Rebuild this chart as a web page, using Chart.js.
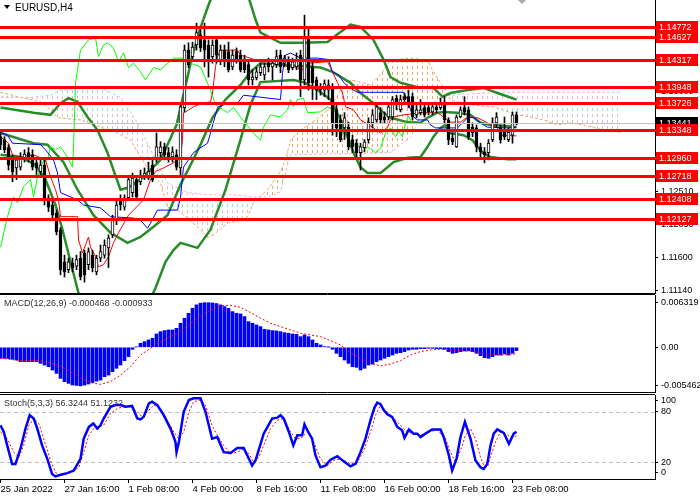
<!DOCTYPE html>
<html>
<head>
<meta charset="utf-8">
<title>EURUSD,H4</title>
<script src="https://cdn.jsdelivr.net/npm/chart.js@4.4.1/dist/chart.umd.min.js"></script>
<style>
html, body { margin: 0; padding: 0; background: #fff; }
#wrap { position: relative; width: 700px; height: 500px; overflow: hidden; background: #fff; }
#wrap canvas { position: absolute; left: 0; top: 0; }
</style>
</head>
<body>
<div id="wrap">
  <canvas id="priceChart" width="700" height="500"></canvas>
  <canvas id="macdChart" width="700" height="500"></canvas>
  <canvas id="stochChart" width="700" height="500"></canvas>
</div>
<script>
// bar index 0 = 25 Jan 2022 00:00, one bar per 4 hours (weekends skipped)
const timeLabels = ['25 Jan 2022', '27 Jan 16:00', '1 Feb 08:00', '4 Feb 00:00', '8 Feb 16:00',
  '11 Feb 08:00', '16 Feb 00:00', '18 Feb 16:00', '23 Feb 08:00'];
const timeLabelIdx = [0, 16, 32, 48, 64, 80, 96, 112, 128];

const candleOpen = [1.1326,1.1322,1.1311,1.1294,1.1283,1.1284,1.1297,1.1304,1.1301,1.1290,
  1.1278,1.1287,1.1242,1.1232,1.1221,1.1198,1.1154,1.1143,1.1152,1.1148,
  1.1159,1.1166,1.1150,1.1163,1.1140,1.1159,1.1163,1.1173,1.1191,1.1212,
  1.1239,1.1229,1.1242,1.1249,1.1267,1.1264,1.1271,1.1269,1.1287,1.1294,
  1.1304,1.1312,1.1304,1.1298,1.1301,1.1283,1.1366,1.1445,1.1436,1.1452,
  1.1466,1.1459,1.1452,1.1436,1.1459,1.1432,1.1445,1.1443,1.1422,1.1443,
  1.1438,1.1432,1.1425,1.1404,1.1407,1.1414,1.1411,1.1427,1.1422,1.1425,
  1.1438,1.1427,1.1432,1.1421,1.1422,1.1438,1.1404,1.1463,1.1422,1.1404,
  1.1394,1.1390,1.1390,1.1394,1.1363,1.1349,1.1338,1.1339,1.1322,1.1317,
  1.1304,1.1311,1.1322,1.1345,1.1349,1.1359,1.1353,1.1353,1.1353,1.1379,
  1.1363,1.1381,1.1381,1.1381,1.1356,1.1359,1.1366,1.1366,1.1360,1.1367,
  1.1366,1.1370,1.1349,1.1324,1.1312,1.1353,1.1366,1.1363,1.1339,1.1338,
  1.1312,1.1305,1.1304,1.1322,1.1345,1.1338,1.1335,1.1322,1.1328,1.1356];
const candleHigh = [1.1333,1.1326,1.1315,1.1301,1.1298,1.1304,1.1308,1.1311,1.1308,1.1294,
  1.1294,1.1294,1.1246,1.1239,1.1225,1.1201,1.1163,1.1159,1.1159,1.1163,
  1.1168,1.1170,1.1173,1.1170,1.1163,1.1177,1.1184,1.1191,1.1218,1.1239,
  1.1246,1.1246,1.1273,1.1276,1.1271,1.1280,1.1283,1.1291,1.1294,1.1331,
  1.1319,1.1317,1.1311,1.1312,1.1308,1.1370,1.1452,1.1455,1.1456,1.1482,
  1.1473,1.1482,1.1459,1.1459,1.1462,1.1452,1.1452,1.1456,1.1445,1.1448,
  1.1445,1.1438,1.1429,1.1418,1.1421,1.1427,1.1427,1.1434,1.1432,1.1445,
  1.1445,1.1438,1.1436,1.1434,1.1441,1.1445,1.1493,1.1476,1.1429,1.1408,
  1.1399,1.1404,1.1404,1.1399,1.1370,1.1356,1.1359,1.1346,1.1328,1.1322,
  1.1317,1.1322,1.1352,1.1363,1.1370,1.1366,1.1360,1.1372,1.1381,1.1383,
  1.1383,1.1386,1.1390,1.1386,1.1370,1.1377,1.1370,1.1370,1.1372,1.1372,
  1.1379,1.1381,1.1352,1.1331,1.1356,1.1367,1.1381,1.1367,1.1345,1.1342,
  1.1317,1.1311,1.1322,1.1352,1.1359,1.1342,1.1353,1.1338,1.1360,1.1360];
const candleLow = [1.1308,1.1304,1.1280,1.1264,1.1267,1.1280,1.1291,1.1291,1.1280,1.1273,
  1.1272,1.1232,1.1223,1.1212,1.1191,1.1136,1.1133,1.1139,1.1140,1.1143,
  1.1129,1.1126,1.1143,1.1140,1.1136,1.1154,1.1159,1.1146,1.1187,1.1205,
  1.1225,1.1225,1.1239,1.1243,1.1239,1.1260,1.1267,1.1267,1.1264,1.1291,
  1.1297,1.1294,1.1291,1.1291,1.1280,1.1273,1.1360,1.1421,1.1429,1.1445,
  1.1443,1.1422,1.1408,1.1427,1.1427,1.1425,1.1422,1.1415,1.1418,1.1427,
  1.1415,1.1414,1.1397,1.1397,1.1404,1.1410,1.1404,1.1415,1.1404,1.1421,
  1.1414,1.1422,1.1414,1.1418,1.1418,1.1381,1.1397,1.1390,1.1377,1.1377,
  1.1383,1.1381,1.1377,1.1328,1.1326,1.1319,1.1322,1.1308,1.1304,1.1298,
  1.1280,1.1305,1.1317,1.1338,1.1346,1.1345,1.1345,1.1349,1.1349,1.1363,
  1.1360,1.1370,1.1366,1.1349,1.1352,1.1356,1.1353,1.1356,1.1356,1.1359,
  1.1363,1.1345,1.1315,1.1315,1.1311,1.1352,1.1356,1.1322,1.1326,1.1305,
  1.1298,1.1290,1.1294,1.1319,1.1339,1.1317,1.1322,1.1319,1.1317,1.1342];
const candleClose = [1.1315,1.1308,1.1287,1.1278,1.1294,1.1298,1.1302,1.1298,1.1284,1.1283,
  1.1287,1.1239,1.1229,1.1218,1.1195,1.1143,1.1140,1.1154,1.1146,1.1157,
  1.1133,1.1136,1.1168,1.1146,1.1159,1.1168,1.1177,1.1187,1.1212,1.1232,
  1.1232,1.1242,1.1267,1.1269,1.1243,1.1273,1.1276,1.1278,1.1267,1.1312,
  1.1312,1.1301,1.1297,1.1305,1.1284,1.1367,1.1445,1.1425,1.1449,1.1469,
  1.1448,1.1445,1.1432,1.1452,1.1438,1.1445,1.1429,1.1418,1.1438,1.1432,
  1.1418,1.1418,1.1404,1.1408,1.1415,1.1422,1.1422,1.1422,1.1427,1.1436,
  1.1422,1.1434,1.1418,1.1429,1.1432,1.1404,1.1463,1.1400,1.1400,1.1390,
  1.1390,1.1399,1.1397,1.1345,1.1338,1.1322,1.1352,1.1312,1.1312,1.1304,
  1.1312,1.1319,1.1346,1.1356,1.1367,1.1349,1.1349,1.1367,1.1377,1.1370,
  1.1377,1.1377,1.1370,1.1353,1.1363,1.1363,1.1356,1.1360,1.1367,1.1363,
  1.1372,1.1349,1.1322,1.1319,1.1353,1.1363,1.1360,1.1326,1.1331,1.1312,
  1.1305,1.1301,1.1317,1.1345,1.1353,1.1322,1.1326,1.1332,1.1356,1.13441];

// Bollinger bands [bar, price]
const bbUpper = [[0,1.1366],[8.25,1.1359],[12.5,1.1356],[15,1.1372],[17,1.1379],[19.25,1.1374],[21.75,1.1353],
  [24.25,1.1335],[26.75,1.1304],[28.25,1.1280],[30,1.1253],[32,1.1256],[35,1.1267],[40,1.1294],[44,1.1342],
  [46,1.1390],[48,1.1438],[50,1.1476],[52,1.1507],[55,1.1548],[58.75,1.1555],[62,1.1518],[63.75,1.1487],
  [65,1.1469],[70,1.1455],[75.75,1.1455],[81.75,1.1456],[85,1.1470],[87.5,1.1480],[90,1.1477],[93.25,1.1459],
  [95.75,1.1432],[97.5,1.1408],[100,1.1400],[104.25,1.1394],[108.25,1.1393],[110.5,1.1381],[112.5,1.1386],
  [116.75,1.1390],[120.75,1.1393],[124.25,1.1386],[129,1.1377]];
const bbMiddle = [[0,1.1331],[8.25,1.1317],[11.75,1.1315],[15.75,1.1291],[19.25,1.1253],[23.25,1.1218],
  [27.5,1.1194],[31.75,1.1180],[35,1.1188],[38.25,1.1202],[41.75,1.1218],[45,1.1260],[47.5,1.1287],
  [50,1.1315],[53,1.1352],[56.25,1.1377],[60,1.1397],[62.5,1.1415],[65,1.1427],[77.5,1.1422],[80,1.1421],
  [83,1.1415],[87.5,1.1400],[90,1.1386],[93.25,1.1372],[95.75,1.1359],[97.5,1.1352],[101.75,1.1346],
  [105,1.1345],[106.75,1.1352],[109.25,1.1359],[110.75,1.1360],[114.25,1.1359],[117.5,1.1356],[120,1.1345],
  [122.5,1.1342],[125.75,1.1341],[129,1.1339]];
const bbLower = [[0,1.1301],[5,1.1298],[8.75,1.1287],[11.25,1.1267],[13.75,1.1232],[15.5,1.1198],[17.5,1.1154],
  [19.5,1.1111],[22.5,1.1060],[27.5,1.1040],[32.5,1.1060],[36.25,1.1088],[38.75,1.1118],[41.25,1.1154],
  [43.25,1.1170],[45,1.1180],[49.25,1.1173],[52.5,1.1198],[56.25,1.1253],[60,1.1322],[62.5,1.1370],
  [65,1.1401],[73.25,1.1404],[75.75,1.1401],[79.25,1.1390],[82.5,1.1377],[85,1.1349],[86.75,1.1326],
  [88.25,1.1304],[90,1.1284],[91.75,1.1276],[95,1.1276],[96.75,1.1284],[98.25,1.1291],[101.75,1.1297],
  [105,1.1298],[106.75,1.1312],[108.25,1.1326],[110,1.1338],[111.25,1.1342],[112.5,1.1331],[115.75,1.1328],
  [118,1.1321],[119.25,1.1312],[120.5,1.1304],[122.5,1.1298],[126.75,1.1295],[129,1.1295]];

// Ichimoku lines [bar, price]
const tenkanSen = [[0,1.1326],[2,1.1317],[3,1.1301],[5,1.1298],[8.25,1.1301],[11.25,1.1294],[12.5,1.1271],
  [13.75,1.1253],[14.5,1.1239],[15,1.1216],[19.25,1.1216],[19.5,1.1184],[20.5,1.1166],[22,1.1188],
  [22.5,1.1174],[23.75,1.1161],[24.5,1.1147],[25.75,1.1150],[27,1.1161],[28.25,1.1180],[29.5,1.1194],
  [32,1.1218],[35.75,1.1239],[37.5,1.1267],[38.75,1.1278],[40.75,1.1283],[43.25,1.1290],[45,1.1298],
  [45.5,1.1322],[45.75,1.1359],[46.25,1.1360],[48.25,1.1367],[50.5,1.1372],[52.5,1.1374],[53,1.1386],
  [53.75,1.1422],[54.25,1.1436],[55,1.1445],[59.25,1.1445],[60,1.1438],[61.25,1.1436],[65,1.1429],
  [70,1.1429],[71.75,1.1422],[74.25,1.1422],[75,1.1415],[76.75,1.1427],[81.75,1.1429],[83,1.1415],
  [84.25,1.1400],[85.5,1.1386],[86.25,1.1367],[88.25,1.1363],[90,1.1349],[93.25,1.1338],[95,1.1331],
  [96.75,1.1339],[97.5,1.1349],[98.25,1.1353],[100.75,1.1356],[105.75,1.1359],[109.25,1.1359],
  [110.75,1.1353],[112.5,1.1346],[115,1.1346],[116.75,1.1353],[119.25,1.1352],[121.75,1.1345],
  [124.25,1.1338],[125,1.1328],[129,1.1327]];
const kijunSen = [[0,1.1332],[1.75,1.1328],[3,1.1317],[10,1.1315],[11.25,1.1308],[13.25,1.1294],[14.25,1.1276],
  [15,1.1249],[19.25,1.1239],[20.75,1.1232],[25,1.1228],[27.5,1.1216],[33.25,1.1214],[35,1.1211],
  [36.75,1.1200],[37.5,1.1207],[39.25,1.1225],[44.25,1.1225],[45,1.1243],[45.75,1.1284],[48.25,1.1304],
  [49.25,1.1308],[51.75,1.1317],[52.5,1.1331],[54.25,1.1366],[56.75,1.1372],[59.25,1.1372],[60.75,1.1383],
  [70,1.1377],[70.5,1.1414],[71.25,1.1438],[72.5,1.1441],[75,1.1434],[79.25,1.1434],[82,1.1432],
  [83,1.1415],[84.5,1.1411],[85.75,1.1401],[87,1.1394],[89.25,1.1387],[100.75,1.1387],[101.75,1.1377],
  [102.5,1.1363],[103.25,1.1353],[104.25,1.1349],[106.75,1.1349],[107.5,1.1342],[108.75,1.1338],
  [114.25,1.1338],[115.5,1.1345],[117,1.1353],[118.25,1.1352],[120,1.1345],[121.75,1.1339],[127,1.1338],
  [129,1.1339]];
const chikouSpan = [[0,1.1174],[1.75,1.1216],[3.25,1.1243],[4.25,1.1235],[5.75,1.1257],[7.5,1.1267],
  [8.25,1.1243],[9.25,1.1271],[10.75,1.1294],[11.75,1.1294],[12.5,1.1312],[13.75,1.1308],[15,1.1312],
  [16.75,1.1298],[18,1.1284],[18.25,1.1312],[18.75,1.1400],[20,1.1445],[22,1.1459],[23.75,1.1462],
  [24.5,1.1436],[25.75,1.1452],[26.75,1.1455],[28.25,1.1448],[29.5,1.1429],[30.75,1.1441],[32,1.1421],
  [33.25,1.1427],[35,1.1415],[36.25,1.1404],[38.25,1.1421],[40,1.1418],[43.25,1.1434],[45.5,1.1434],
  [47.5,1.1427],[50,1.1422],[52.5,1.1390],[53.75,1.1370],[56.75,1.1359],[58.25,1.1366],[60,1.1353],
  [63.25,1.1331],[65,1.1321],[65.75,1.1339],[67.5,1.1356],[70,1.1353],[71.75,1.1363],[72.5,1.1377],
  [73.25,1.1367],[74.25,1.1377],[75.75,1.1379],[76.75,1.1359],[80,1.1360],[81.75,1.1367],[83.25,1.1363],
  [85,1.1349],[85.75,1.1331],[87.5,1.1317],[90,1.1312],[92.5,1.1310],[93.75,1.1304],[95,1.1310],
  [96.25,1.1331],[97.5,1.1338],[98.75,1.1326],[99.5,1.1333],[100.5,1.1326],[101.25,1.1345],[102,1.1354],
  [103,1.1344]];
const senkouA = [[0,1.1387],[5,1.1380],[10,1.1374],[12.5,1.1363],[14.25,1.1352],[20,1.1349],[25,1.1339],
  [29.25,1.1331],[32.5,1.1321],[37.5,1.1276],[40,1.1262],[41.75,1.1229],[44.25,1.1225],[46.75,1.1214],
  [50,1.1198],[51.75,1.1187],[53.25,1.1191],[56.75,1.1207],[60,1.1211],[61.75,1.1216],[63.25,1.1235],
  [66.75,1.1253],[70,1.1278],[71.25,1.1294],[72.5,1.1321],[75,1.1335],[78.75,1.1349],[82.5,1.1366],
  [85,1.1390],[87.5,1.1404],[90,1.1401],[92.5,1.1397],[95,1.1411],[97.5,1.1431],[102.5,1.1434],
  [106.75,1.1431],[108.25,1.1415],[110,1.1400],[111.25,1.1390],[112.5,1.1376],[117.5,1.1370],
  [123.25,1.1367],[129.25,1.1356],[132.5,1.1353],[135.75,1.1349],[139.25,1.1342],[142.5,1.1345],
  [145.75,1.1342],[150.75,1.1335],[155,1.1332]];
const senkouB = [[0,1.1380],[7.5,1.1380],[12.5,1.1383],[15,1.1390],[20,1.1393],[25,1.1393],[27.5,1.1387],
  [30,1.1380],[33.75,1.1349],[37.5,1.1308],[41.75,1.1262],[46.75,1.1249],[51.75,1.1246],[58.25,1.1246],
  [63.25,1.1243],[66.75,1.1243],[70,1.1250],[71.75,1.1287],[72.5,1.1301],[97.5,1.1304],[100,1.1315],
  [102.5,1.1324],[105,1.1356],[107.5,1.1370],[110,1.1380],[112.5,1.1383],[124.25,1.1387],[155,1.1387]];

const priceLevels = [1.14772, 1.14627, 1.14317, 1.13948, 1.13726, 1.13348, 1.12960, 1.12718, 1.12408, 1.12127];
const currentPrice = 1.13441;
const priceTicks = [1.11140, 1.11600, 1.12050, 1.12510, 1.12970, 1.13420, 1.13880, 1.14330, 1.14790];

const macdHist = [-0.00156,-0.00156,-0.0016,-0.0017,-0.0018,-0.00203,-0.00203,-0.00203,-0.00203,-0.00203,
  -0.00227,-0.00251,-0.00274,-0.00322,-0.00369,-0.0044,-0.00487,-0.00511,-0.00534,-0.0054,
  -0.005462,-0.00535,-0.0052,-0.005,-0.0048,-0.00464,-0.00416,-0.00393,-0.00345,-0.00298,
  -0.00251,-0.00189,-0.00132,-0.00028,0.00005,0.00057,0.0008,0.00104,0.00128,0.00189,
  0.00222,0.00237,0.00246,0.00246,0.0027,0.00341,0.00412,0.00482,0.00553,0.00601,
  0.00625,0.006319,0.006319,0.00628,0.0062,0.00601,0.00577,0.00553,0.00506,0.00482,
  0.00473,0.00435,0.00364,0.00341,0.00317,0.00293,0.00255,0.00246,0.00237,0.00232,
  0.00222,0.00208,0.00199,0.00189,0.00184,0.00151,0.00175,0.00151,0.00104,0.00057,
  0.00033,0.00009,0.00002,-0.00028,-0.00085,-0.00132,-0.0018,-0.00227,-0.00274,-0.00284,
  -0.00322,-0.00298,-0.00251,-0.00237,-0.00203,-0.0018,-0.00156,-0.00132,-0.00109,-0.00085,
  -0.00076,-0.00061,-0.00038,-0.00028,-0.00028,-0.00019,-0.00019,-0.00014,-0.00014,-0.00019,
  -0.00019,-0.00028,-0.00061,-0.00085,-0.00076,-0.00061,-0.00052,-0.00047,-0.00061,-0.00085,
  -0.00118,-0.00147,-0.00156,-0.00132,-0.00109,-0.00109,-0.00095,-0.00109,-0.00085,-0.000468];
const macdSignal = [[0,-0.00156],[5,-0.00189],[10,-0.00189],[15,-0.00265],[20,-0.00426],[22.5,-0.00501],
  [25,-0.00525],[27.5,-0.00487],[30,-0.00393],[32.5,-0.00274],[35,-0.00109],[37.5,-0.00014],[40,0.0008],
  [42.5,0.00151],[45,0.00222],[47.5,0.00341],[50,0.00435],[52.5,0.0053],[55,0.0059],[57.5,0.00595],
  [60,0.00567],[62.5,0.00492],[65,0.00412],[67.5,0.00341],[70,0.00293],[72.5,0.00246],[75,0.00199],
  [77.5,0.00175],[80,0.00151],[82.5,0.00095],[85,0.00033],[87.5,-0.00076],[90,-0.00156],[92.5,-0.00227],
  [95,-0.00265],[97.5,-0.00237],[100,-0.00189],[102.5,-0.00109],[105,-0.00061],[107.5,-0.00038],
  [110,-0.00028],[112.5,-0.00038],[115,-0.00047],[117.5,-0.00057],[120,-0.00076],[122.5,-0.00099],
  [125,-0.00112],[129,-0.000933]];
const macdTicks = [0.006319, 0, -0.005462];

const stochMain = [[0,64],[0.83,56],[1.67,40],[2.9,18],[3.75,18],[5,36],[6.25,60],[7.3,76],[8.3,72],[9.2,60],
  [10.4,40],[11.7,24],[12.9,6],[13.75,3],[15,5],[16.7,7],[18.3,10],[20,24],[20.8,48],[22.1,62],[23.2,66],
  [24.2,60],[25,64],[25.8,72],[27.5,86],[28.75,88],[30,88],[31.25,86],[32.9,87],[34.2,72],[35,71],[35.8,74],
  [37.1,90],[37.9,92],[39.2,88],[40.8,76],[42.5,60],[43.75,44],[44,32],[44.6,44],[45.8,80],[47.1,94],
  [48.3,96],[50,96],[51.25,80],[52.9,48],[54.2,50],[55.8,32],[57.5,31],[59.2,37],[60.8,37],[61.7,28],
  [62.9,16],[63.75,22],[65.8,54],[67.9,72],[69.2,73],[70,76],[70.8,72],[72.1,56],[73.2,40],[74.2,52],
  [75.4,52],[76,65],[76.7,58],[77.9,48],[78.75,28],[80,14],[81.25,16],[82.5,23],[84.2,27],[85.8,21],
  [87.5,15],[88.75,18],[90,32],[91.25,48],[92.5,70],[93.5,85],[94.2,91],[95,89],[95.8,82],[96.7,77],
  [97.9,74],[99.2,62],[100.4,58],[101,49],[102.1,59],[103.3,54],[104.2,54],[105,50],[106.25,54],
  [107.9,59],[110,59],[110.8,50],[112.1,28],[112.9,10],[114,24],[115,50],[116.1,68],[117.5,48],
  [118.75,22],[120,14],[120.8,12],[121.7,18],[122.5,40],[123.3,54],[124.2,59],[125.8,55],[127.1,42],
  [128.3,54],[129,56.3]];
const stochSignal = [[0,56],[1.7,48],[3.3,32],[4.6,26],[5.8,40],[7.1,64],[8.3,72],[9.6,66],[10.8,48],
  [12.5,22],[14.2,4],[15.8,5],[17.9,8],[19.6,14],[20.8,32],[22.1,52],[23.3,60],[24.2,62],[25.8,64],
  [27.5,78],[29.2,84],[30.8,86],[32.5,86],[34.2,80],[35.4,74],[36.7,80],[38.3,88],[40,84],[41.7,70],
  [43.3,56],[44.6,48],[45.8,56],[47.1,80],[48.3,92],[50,94],[51.25,88],[52.9,64],[54.2,52],[55.8,40],
  [57.5,30],[59.2,32],[60.8,36],[62.1,30],[63.3,20],[64.6,26],[65.8,40],[67.5,60],[69.2,70],[70.8,72],
  [72.5,56],[73.75,48],[75,48],[76.7,56],[78.3,44],[80,24],[81.7,16],[83.3,22],[85,24],[86.7,20],
  [87.5,18],[89.2,20],[90.8,34],[92.5,56],[93.75,76],[95,88],[96.25,82],[97.5,76],[99.2,68],[100.4,62],
  [101.7,56],[103.3,54],[105,52],[106.7,56],[109.2,58],[111.25,48],[112.5,32],[113.75,20],[115,34],
  [116.25,52],[117.5,60],[118.75,48],[120,26],[120.8,16],[121.7,14],[122.5,26],[123.75,44],[125,56],
  [126.25,54],[127.5,50],[129,51.1]];
const stochLevels = [20, 80];
const stochTickValues = [93, 80, 20, 8];
const stochTickLabels = ['100', '80', '20', '0'];

const FONT = "'Liberation Sans', Arial, sans-serif";
Chart.defaults.font.family = FONT;
Chart.defaults.font.size = 9;
Chart.defaults.color = '#000';
Chart.defaults.animation = false;
Chart.defaults.plugins.legend.display = false;
Chart.defaults.plugins.tooltip.enabled = false;
Chart.defaults.elements.point.radius = 0;
Chart.defaults.elements.line.tension = 0;

const X_MIN = -0.125, X_MAX = 163.625;
const BB_GREEN = 'rgb(40,140,40)';

function fixY(scale) {
    scale.width = 45;
    scale.paddingTop = 0;
    scale.paddingBottom = 0;
}

// short vertical dashes, like the terminal's cloud hatching
function hatch(color) {
    const c = document.createElement('canvas');
    c.width = 5; c.height = 6;
    const g = c.getContext('2d');
    g.fillStyle = color;
    g.fillRect(2, 0, 1, 3);
    return g.createPattern(c, 'repeat');
}

// bar datasets would otherwise switch the x axis to offset mode
function hiddenX() {
    return { type: 'linear', min: X_MIN, max: X_MAX, display: false, offset: false, grid: { offset: false } };
}

function rightAxis(min, max, values, fmt) {
    return {
        position: 'right', min: min, max: max, beginAtZero: false,
        afterBuildTicks: s => { s.ticks = values.map(v => ({ value: v })); },
        afterFit: fixY,
        ticks: { callback: fmt, padding: 3, autoSkip: false },
        grid: { drawOnChartArea: false, tickLength: 3, color: '#000' },
        border: { display: true, color: '#000' }
    };
}

function line(data, color, width, extra) {
    return Object.assign({ type: 'line', data: data, borderColor: color, borderWidth: width,
        pointRadius: 0, fill: false }, extra || {});
}

function hline(ctx, x1, x2, y) {
    ctx.beginPath(); ctx.moveTo(x1, y); ctx.lineTo(x2, y); ctx.stroke();
}

function tag(ctx, x, yc, text, bg) {
    ctx.fillStyle = bg;
    ctx.fillRect(x, Math.round(yc) - 6, 42, 12);
    ctx.fillStyle = '#fff';
    ctx.textAlign = 'left';
    ctx.textBaseline = 'middle';
    ctx.fillText(text, x + 3, Math.round(yc) + 0.5);
}

const priceDecor = {
    id: 'priceDecor',
    afterDatasetsDraw(chart) {
        const { ctx, chartArea: a, scales: { y } } = chart;
        ctx.save();
        ctx.strokeStyle = '#c0c0c0'; ctx.lineWidth = 1;
        hline(ctx, a.left, a.right, Math.round(y.getPixelForValue(currentPrice)) + 0.5);
        ctx.strokeStyle = '#ff0000'; ctx.lineWidth = 3;
        priceLevels.forEach(v => hline(ctx, a.left, a.right + 2, Math.round(y.getPixelForValue(v)) + 0.5));
        ctx.restore();
    },
    afterDraw(chart) {
        const { ctx, chartArea: a, scales: { x, y } } = chart;
        ctx.save();
        ctx.font = '9px ' + FONT;
        tag(ctx, a.right + 1, y.getPixelForValue(currentPrice), currentPrice.toFixed(5), '#000');
        priceLevels.forEach(v => tag(ctx, a.right + 1, y.getPixelForValue(v), v.toFixed(5), '#ff0000'));
        // panel bottom border
        ctx.strokeStyle = '#000'; ctx.lineWidth = 1;
        hline(ctx, 0, a.right, a.bottom + 0.5);
        // symbol caption
        ctx.fillStyle = '#000';
        ctx.beginPath(); ctx.moveTo(4, 5); ctx.lineTo(10, 5); ctx.lineTo(7, 9); ctx.closePath(); ctx.fill();
        ctx.font = '10px ' + FONT;
        ctx.textAlign = 'left'; ctx.textBaseline = 'middle';
        ctx.fillText('EURUSD,H4', 15, 8);
        // chart shift marker
        const sx = Math.round(x.getPixelForValue(candleClose.length + 0.3));
        ctx.fillStyle = '#a9a9a9';
        ctx.beginPath(); ctx.moveTo(sx - 4, 0); ctx.lineTo(sx + 4, 0); ctx.lineTo(sx, 4); ctx.closePath(); ctx.fill();
        ctx.restore();
    }
};

function panelDecor(id, label) {
    return {
        id: id,
        beforeDatasetsDraw(chart) {
            if (id !== 'stochDecor') return;
            const { ctx, chartArea: a, scales: { y } } = chart;
            ctx.save();
            ctx.strokeStyle = '#c0c0c0'; ctx.lineWidth = 1; ctx.setLineDash([4, 3]);
            stochLevels.forEach(v => hline(ctx, a.left, a.right, Math.round(y.getPixelForValue(v)) + 0.5));
            ctx.restore();
        },
        afterDraw(chart) {
            const { ctx, chartArea: a } = chart;
            ctx.save();
            ctx.strokeStyle = '#000'; ctx.lineWidth = 1;
            hline(ctx, 0, a.right, a.top - 0.5);
            hline(ctx, 0, a.right, a.bottom + 0.5);
            ctx.fillStyle = '#333';
            ctx.font = '9px ' + FONT;
            ctx.textAlign = 'left'; ctx.textBaseline = 'middle';
            ctx.fillText(label, 4, a.top + 9);
            ctx.restore();
        }
    };
}

const orangeHatch = hatch('#F4A460');
const pinkHatch = hatch('#D8BFD8');

const bodyColors = candleClose.map((c, i) => c >= candleOpen[i] ? '#ffffff' : '#000000');

new Chart(document.getElementById('priceChart'), {
    type: 'line',
    data: {
        datasets: [
            line(senkouA, '#F4A460', 1, { borderDash: [3, 2], order: 20,
                fill: { target: '+1', above: orangeHatch, below: pinkHatch } }),
            line(senkouB, '#D8BFD8', 1, { borderDash: [3, 2], order: 19 }),
            line(bbUpper, BB_GREEN, 2.5, { order: 10 }),
            line(bbMiddle, BB_GREEN, 2.5, { order: 10 }),
            line(bbLower, BB_GREEN, 2.5, { order: 10 }),
            line(chikouSpan, '#00ff00', 1, { order: 9 }),
            line(tenkanSen, '#ff0000', 1, { order: 8 }),
            line(kijunSen, '#0000ff', 1, { order: 7 }),
            {
                type: 'bar', order: 2, grouped: false, barThickness: 1,
                data: candleHigh.map((h, i) => ({ x: i, y: [candleLow[i], h] })),
                backgroundColor: '#000000'
            },
            {
                type: 'bar', order: 1, grouped: false, barThickness: 3,
                data: candleOpen.map((o, i) => ({ x: i, y: [o, candleClose[i]] })),
                backgroundColor: bodyColors, borderColor: '#000000', borderWidth: 1, borderSkipped: false
            }
        ]
    },
    options: {
        responsive: false,
        layout: { padding: { top: 0, bottom: 207, left: 0, right: 0 } },
        scales: {
            x: hiddenX(),
            y: rightAxis(1.11110, 1.15139, priceTicks, v => v.toFixed(5))
        }
    },
    plugins: [priceDecor]
});

new Chart(document.getElementById('macdChart'), {
    type: 'line',
    data: {
        datasets: [
            line(macdSignal, '#ff0000', 1, { borderDash: [2, 2], order: 1 }),
            {
                type: 'bar', order: 2, grouped: false, barThickness: 3,
                data: macdHist.map((v, i) => ({ x: i, y: v })),
                backgroundColor: '#0000ff'
            }
        ]
    },
    options: {
        responsive: false,
        layout: { padding: { top: 295, bottom: 108, left: 0, right: 0 } },
        scales: {
            x: hiddenX(),
            y: rightAxis(-0.006334, 0.007410, macdTicks, v => v === 0 ? '0.00' : v.toFixed(6))
        }
    },
    plugins: [panelDecor('macdDecor', 'MACD(12,26,9) -0.000468 -0.000933')]
});

new Chart(document.getElementById('stochChart'), {
    type: 'line',
    data: {
        datasets: [
            line(stochSignal, '#ff0000', 1, { borderDash: [2, 2], order: 2 }),
            line(stochMain, '#0000ff', 2.5, { order: 1 })
        ]
    },
    options: {
        responsive: false,
        layout: { padding: { top: 395, bottom: 0, left: 0, right: 0 } },
        scales: {
            x: {
                type: 'linear', min: X_MIN, max: X_MAX, offset: false,
                afterBuildTicks: s => { s.ticks = timeLabelIdx.map(v => ({ value: v })); },
                afterFit: s => { s.height = 21; s.paddingLeft = 0; s.paddingRight = 0; },
                ticks: { callback: (v, i) => timeLabels[i], align: 'start', maxRotation: 0, minRotation: 0,
                    autoSkip: false, padding: 1, font: { size: 9.5 } },
                grid: { drawOnChartArea: false, tickLength: 4, color: '#000' },
                border: { display: true, color: '#000' }
            },
            y: rightAxis(0, 100, stochTickValues, (v, i) => stochTickLabels[i])
        }
    },
    plugins: [panelDecor('stochDecor', 'Stoch(5,3,3) 56.3244 51.1232')]
});
</script>
</body>
</html>
